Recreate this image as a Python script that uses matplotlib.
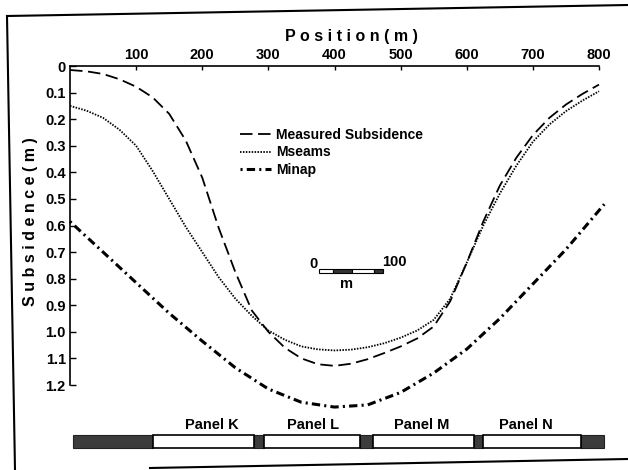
import numpy as np
import matplotlib
matplotlib.use('Agg')
import matplotlib.pyplot as plt
from matplotlib.patches import Rectangle
from matplotlib.lines import Line2D

plt.rcParams['font.family'] = ['Liberation Sans', 'DejaVu Sans']
plt.rcParams['font.weight'] = 'bold'
plt.rcParams['lines.scale_dashes'] = False

# position along the profile (m)
position = [0, 25, 50, 75, 100, 125, 150, 175, 200, 225, 250, 275, 300, 325, 350, 375, 400,
            425, 450, 475, 500, 525, 550, 575, 600, 625, 650, 675, 700, 725, 750, 775, 800]
measured = [0.015, 0.02, 0.03, 0.05, 0.078, 0.118, 0.18, 0.28, 0.42, 0.61, 0.775, 0.92, 1.0,
            1.06, 1.1, 1.122, 1.128, 1.12, 1.103, 1.08, 1.055, 1.025, 0.98, 0.885, 0.74, 0.585,
            0.45, 0.345, 0.26, 0.195, 0.145, 0.105, 0.07]
mseams = [0.15, 0.168, 0.195, 0.24, 0.30, 0.395, 0.50, 0.605, 0.70, 0.795, 0.875, 0.94, 0.995,
          1.03, 1.055, 1.066, 1.07, 1.067, 1.058, 1.043, 1.022, 0.995, 0.955, 0.875, 0.74, 0.60,
          0.48, 0.375, 0.285, 0.22, 0.17, 0.13, 0.095]
minap_pos = [0, 50, 100, 150, 200, 250, 300, 350, 400, 450, 500, 550, 600, 650, 700, 750, 808]
minap = [0.585, 0.70, 0.815, 0.93, 1.035, 1.135, 1.215, 1.265, 1.283, 1.275, 1.228, 1.155,
         1.065, 0.95, 0.82, 0.69, 0.52]

# panel layout under the profile (m)
solid_blocks = [(4, 126), (279, 294), (438, 458), (611, 624), (773, 808)]
panels = [(126, 279), (294, 438), (458, 611), (624, 773)]
panel_names = ['Panel K', 'Panel L', 'Panel M', 'Panel N']
panel_label_x = [215, 368, 532, 690]

fig = plt.figure(figsize=(6.28, 4.70), dpi=100)
ax = fig.add_axes([70/628, 85/470, 529/628, 319/470])

ax.plot(position, measured, color='k', lw=1.3, dashes=(9, 4),
        label='Measured Subsidence', clip_on=False)
ax.plot(position, mseams, color='k', lw=1.3, dashes=(1.1, 1.0),
        label='Mseams', clip_on=False)
ax.plot(minap_pos, minap, color='k', lw=2.2, dashes=(1.5, 3, 6, 3),
        label='Minap', clip_on=False)

ax.set_xlim(0, 800)
ax.set_ylim(1.2, 0)
ax.xaxis.tick_top()
ax.set_xticks(range(100, 801, 100))
yt = np.arange(0, 13) / 10
ax.set_yticks(yt)
ax.set_yticklabels(['0'] + ['%.1f' % v for v in yt[1:]])
for s in ['right', 'bottom']:
    ax.spines[s].set_visible(False)
for s in ['left', 'top']:
    ax.spines[s].set_linewidth(1.2)
ax.tick_params(axis='x', direction='in', length=3, width=1, pad=3, labelsize=10.5)
ax.tick_params(axis='y', direction='in', length=4, width=1, pad=3, labelsize=10.5)

fig.text(0.56, 1 - 37/470, 'P o s i t i o n ( m )', ha='center', va='center', fontsize=11.5)
fig.text(30/628, 0.528, 'S u b s i d e n c e ( m )', rotation=90,
         ha='center', va='center', fontsize=11.5)

ax.legend(loc='upper left', bbox_to_anchor=((240 - 70)/529, (385 - 128)/319),
          frameon=False, handlelength=2.2, handletextpad=0.4, labelspacing=0.25,
          borderaxespad=0, borderpad=0, prop=dict(size=10, weight='bold'))

# scale bar
bar_y, bar_h = 0.762, 0.016
for (a, b), fc in zip([(376, 398), (398, 427), (427, 459), (459, 474)],
                      ['white', '#333333', 'white', '#333333']):
    ax.add_patch(Rectangle((a, bar_y), b - a, bar_h, facecolor=fc,
                           edgecolor='k', lw=0.8, clip_on=False))
ax.text(368, 0.745, '0', ha='center', va='center', fontsize=10.5)
ax.text(490, 0.738, '100', ha='center', va='center', fontsize=10.5)
ax.text(418, 0.82, 'm', ha='center', va='center', fontsize=10.5)

# panel bar
py0, py1 = 1.389, 1.438
for a, b in solid_blocks:
    ax.add_patch(Rectangle((a, py0), b - a, py1 - py0, facecolor='#3c3c3c',
                           edgecolor='#222222', lw=0.8, clip_on=False))
for a, b in panels:
    ax.add_patch(Rectangle((a, py0), b - a, py1 - py0, facecolor='white',
                           edgecolor='k', lw=1.2, clip_on=False))
for name, x in zip(panel_names, panel_label_x):
    ax.text(x, 1.35, name, ha='center', va='center', fontsize=10.5)

# page frame of the scan
for xs, ys in [([7, 628], [16, 5]), ([7, 15], [16, 470]), ([150, 628], [468, 459])]:
    fig.add_artist(Line2D([x/628 for x in xs], [1 - y/470 for y in ys],
                          transform=fig.transFigure, color='k', lw=1.5))

fig.savefig('out.png', dpi=100)
